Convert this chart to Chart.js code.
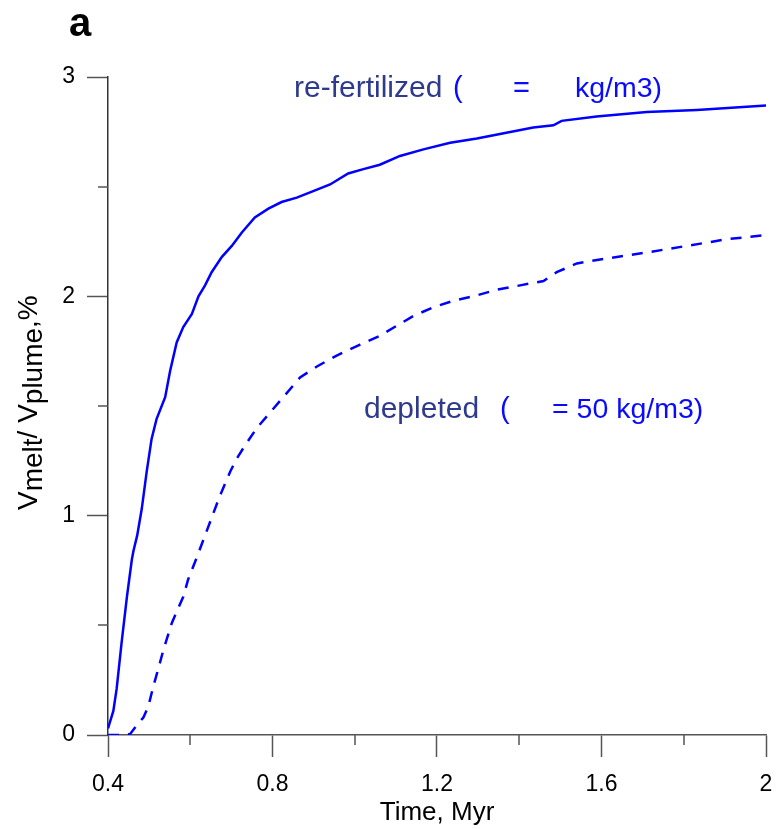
<!DOCTYPE html>
<html lang="en">
<head>
  <meta charset="UTF-8" />
  <title>Vmelt / Vplume vs time</title>
  <script src="https://cdn.jsdelivr.net/npm/chart.js"></script>
  <style>
    body {
      margin: 0;
      background: #ffffff;
    }
    #wrap {
      width: 780px;
      height: 829px;
    }
  </style>
</head>
<body>
  <div id="wrap">
    <canvas id="meltChart" width="780" height="829"></canvas>
  </div>

  <script>
    // Re-fertilized plume (solid line): time in Myr, melt volume in %
    const fertTime = [0.400, 0.413, 0.421, 0.433, 0.446, 0.458, 0.462, 0.471, 0.482, 0.494,
      0.506, 0.518, 0.539, 0.551, 0.567, 0.583, 0.604, 0.620, 0.636, 0.652,
      0.677, 0.701, 0.725, 0.757, 0.790, 0.822, 0.859, 0.899, 0.940, 0.984,
      1.021, 1.061, 1.110, 1.167, 1.232, 1.297, 1.353, 1.434, 1.483, 1.503,
      1.588, 1.710, 1.832, 2.000];
    const fertMelt = [0.03, 0.11, 0.21, 0.42, 0.63, 0.80, 0.84, 0.91, 1.03, 1.20,
      1.35, 1.44, 1.54, 1.66, 1.79, 1.86, 1.92, 2.00, 2.05, 2.11,
      2.18, 2.23, 2.29, 2.36, 2.40, 2.43, 2.45, 2.48, 2.51, 2.56,
      2.58, 2.60, 2.64, 2.67, 2.70, 2.72, 2.74, 2.77, 2.78, 2.80,
      2.82, 2.84, 2.85, 2.87];

    // Depleted plume (dashed line)
    const deplTime = [0.400, 0.427, 0.454, 0.468, 0.486, 0.498, 0.510, 0.522, 0.535, 0.555,
      0.583, 0.595, 0.616, 0.632, 0.652, 0.672, 0.697, 0.713, 0.733, 0.762,
      0.794, 0.826, 0.867, 0.908, 0.956, 1.013, 1.061, 1.142, 1.191, 1.240,
      1.288, 1.345, 1.402, 1.459, 1.491, 1.540, 1.604, 1.710, 1.807, 1.904,
      2.000];
    const deplMelt = [0.00, 0.00, 0.005, 0.04, 0.08, 0.13, 0.22, 0.30, 0.39, 0.51,
      0.63, 0.71, 0.81, 0.89, 0.99, 1.09, 1.20, 1.26, 1.32, 1.40,
      1.47, 1.54, 1.63, 1.68, 1.73, 1.78, 1.82, 1.91, 1.95, 1.98,
      2.00, 2.03, 2.05, 2.07, 2.11, 2.15, 2.17, 2.20, 2.23, 2.26,
      2.28];

    // Axis ticks
    const xMajorTicks = [0.4, 0.8, 1.2, 1.6, 2.0];
    const xMinorTicks = [0.6, 1.0, 1.4, 1.8];
    const yMajorTicks = [0, 1, 2, 3];
    const yMinorTicks = [0.5, 1.5, 2.5];

    const FONT = "'Liberation Sans', Arial, sans-serif";
    const DARK = '#2e3a8e';
    const BRIGHT = '#0a0aff';

    function toPoints(xs, ys) {
      return xs.map((x, i) => ({ x: x, y: ys[i] }));
    }

    // minor ticks, y title with subscripts, panel letter and labels
    const extrasPlugin = {
      id: 'extras',
      afterDraw(chart) {
        const ctx = chart.ctx;
        const xs = chart.scales.x;
        const ys = chart.scales.y;
        const area = chart.chartArea;

        ctx.save();
        ctx.strokeStyle = '#555';
        ctx.lineWidth = 1.5;
        xMinorTicks.forEach(v => {
          const px = Math.round(xs.getPixelForValue(v));
          ctx.beginPath();
          ctx.moveTo(px, area.bottom);
          ctx.lineTo(px, area.bottom + 10);
          ctx.stroke();
        });
        yMinorTicks.forEach(v => {
          const py = Math.round(ys.getPixelForValue(v));
          ctx.beginPath();
          ctx.moveTo(area.left, py);
          ctx.lineTo(area.left - 10, py);
          ctx.stroke();
        });
        ctx.restore();

        // y axis title: V_melt/ V_plume,%
        ctx.save();
        ctx.translate(37, 510);
        ctx.rotate(-Math.PI / 2);
        ctx.font = '28px ' + FONT;
        ctx.fillStyle = '#000';
        ctx.textBaseline = 'alphabetic';
        let pos = 0;
        [['V', 0], ['melt', 5], ['/ ', 0], ['V', 0], ['plume', 5], [',%', 0]].forEach(([t, dy]) => {
          ctx.fillText(t, pos, dy);
          pos += ctx.measureText(t).width;
        });
        ctx.restore();

        // panel letter
        ctx.save();
        ctx.font = 'bold 40px ' + FONT;
        ctx.fillStyle = '#000';
        ctx.fillText('a', 69, 36);
        ctx.restore();

        // curve labels
        const labels = [
          ['re-fertilized', 294, 97, DARK, 30],
          ['(', 453, 97, BRIGHT, 29],
          ['=', 513, 97, BRIGHT, 29],
          ['kg/m3)', 575, 97, BRIGHT, 28.5],
          ['depleted', 364, 418, DARK, 30],
          ['(', 500, 418, BRIGHT, 29],
          ['= 50 kg/m3)', 552, 418, BRIGHT, 28.5]
        ];
        ctx.save();
        ctx.textBaseline = 'alphabetic';
        labels.forEach(([t, x, y, c, s]) => {
          ctx.font = s + 'px ' + FONT;
          ctx.fillStyle = c;
          ctx.fillText(t, x, y);
        });
        ctx.restore();
      }
    };

    const ctx = document.getElementById('meltChart').getContext('2d');
    const meltChart = new Chart(ctx, {
      type: 'line',
      data: {
        datasets: [
          {
            label: 're-fertilized',
            data: toPoints(fertTime, fertMelt),
            borderColor: '#0000ff',
            borderWidth: 2.5,
            pointRadius: 0,
            tension: 0,
            fill: false
          },
          {
            label: 'depleted',
            data: toPoints(deplTime, deplMelt),
            borderColor: '#0000ff',
            borderWidth: 2.5,
            borderDash: [11, 9],
            pointRadius: 0,
            tension: 0,
            fill: false
          }
        ]
      },
      options: {
        responsive: false,
        animation: false,
        layout: { padding: { left: 0, top: 77, right: 14, bottom: 0 } },
        plugins: {
          legend: { display: false },
          tooltip: { enabled: false }
        },
        scales: {
          x: {
            type: 'linear',
            min: 0.4,
            max: 2,
            afterFit(scale) {
              scale.height = 94;
              scale.paddingLeft = 0;
              scale.paddingRight = 0;
            },
            afterBuildTicks(scale) { scale.ticks = xMajorTicks.map(v => ({ value: v })); },
            ticks: {
              color: '#000',
              font: { family: FONT, size: 23 },
              padding: 14,
              maxRotation: 0,
              callback: v => String(+v.toFixed(1))
            },
            grid: {
              drawOnChartArea: false,
              drawTicks: true,
              tickLength: 22,
              tickColor: '#555',
              tickWidth: 1.5
            },
            border: { display: true, color: '#555', width: 1.5 },
            title: {
              display: true,
              text: 'Time, Myr',
              color: '#000',
              font: { family: FONT, size: 26 },
              padding: { top: 0, bottom: 1 }
            }
          },
          y: {
            type: 'linear',
            min: 0,
            max: 3,
            afterFit(scale) {
              scale.width = 108;
              scale.paddingTop = 0;
              scale.paddingBottom = 0;
            },
            afterBuildTicks(scale) { scale.ticks = yMajorTicks.map(v => ({ value: v })); },
            ticks: {
              color: '#000',
              font: { family: FONT, size: 23 },
              padding: 12,
              callback: v => String(v)
            },
            grid: {
              drawOnChartArea: false,
              drawTicks: true,
              tickLength: 21,
              tickColor: '#555',
              tickWidth: 1.5
            },
            border: { display: true, color: '#333', width: 1.5 }
          }
        }
      },
      plugins: [extrasPlugin]
    });
  </script>
</body>
</html>
